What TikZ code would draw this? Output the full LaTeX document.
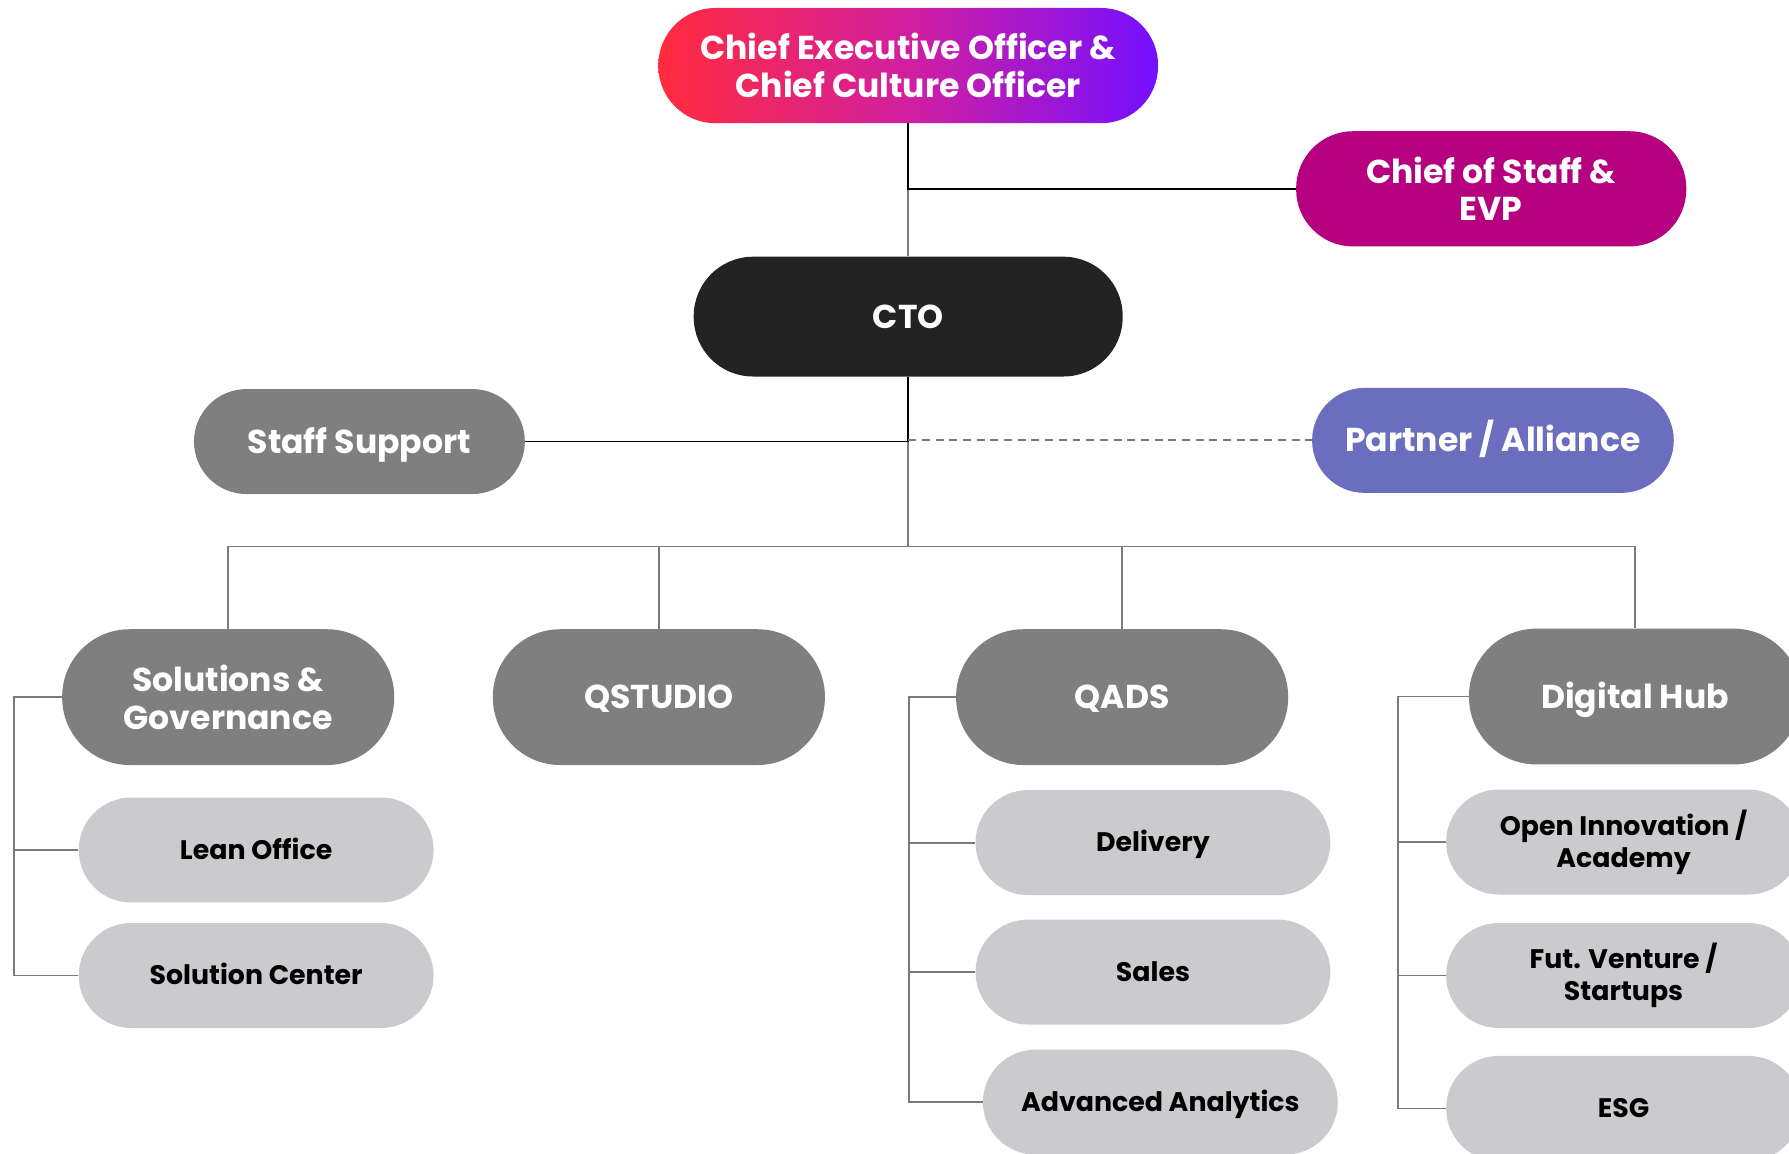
\documentclass[tikz,border=0pt]{standalone}
\usepackage{fontspec}
\setmainfont{Poppins}
\definecolor{gradL}{HTML}{FF2B3D}
\definecolor{gradM}{HTML}{D21FA0}
\definecolor{gradR}{HTML}{7410FF}
\definecolor{cosC}{HTML}{B5007F}
\definecolor{ctoC}{HTML}{232323}
\definecolor{midC}{HTML}{7F7F80}
\definecolor{parC}{HTML}{6B6EBE}
\definecolor{subC}{HTML}{CBCBCD}
\definecolor{lineC}{HTML}{7A7A7A}
\tikzset{
  pill/.style={rectangle, inner sep=0pt, align=center, font=\bfseries\fontsize{29}{33}\selectfont},
  oneline/.style={text height=20.3pt, text depth=0pt},
  onesmall/.style={text height=16.4pt, text depth=0pt},
  toplev/.style={pill, minimum height=101pt, rounded corners=50pt, text=white},
  lev2/.style={pill, minimum height=92pt, rounded corners=46pt, text=white, oneline},
  lev3/.style={pill, minimum width=291pt, minimum height=119pt, rounded corners=59pt, fill=midC, text=white},
  subbox/.style={pill, minimum width=311pt, minimum height=92pt, rounded corners=46pt, fill=subC, text=black, font=\bfseries\fontsize{23.5}{28}\selectfont},
  blk/.style={draw=black, line width=1.6pt},
  gry/.style={draw=lineC, line width=1.6pt},
  dsh/.style={draw=lineC, line width=1.6pt, dash pattern=on 7pt off 5pt}
}
\begin{document}
\begin{tikzpicture}[x=1pt, y=-1pt]
\path[use as bounding box, clip] (0,0) rectangle (1568,1011);
\fill[white] (0,0) rectangle (1568,1011);

% nodes
\node[toplev, minimum width=438pt, left color=gradL, right color=gradR, middle color=gradM] (ceo) at (796,57.5) {Chief Executive Officer \&\\Chief Culture Officer};
\node[toplev, minimum width=342pt, fill=cosC] (cos) at (1307,165.5) {Chief of Staff \&\\EVP};
\node[pill, oneline, minimum width=376pt, minimum height=105pt, rounded corners=52pt, fill=ctoC, text=white] (cto) at (796,277.5) {CTO};
\node[lev2, minimum width=290pt, fill=midC] (staff) at (315,387) {Staff Support};
\node[lev2, minimum width=317pt, fill=parC] (par) at (1308.5,386) {Partner / Alliance};

\node[lev3] (sg) at (200,611) {Solutions \&\\Governance};
\node[lev3, oneline] (qs) at (577.5,611) {QSTUDIO};
\node[lev3, oneline] (qa) at (983.5,611) {QADS};
\node[lev3, oneline] (dh) at (1433,610.5) {Digital Hub};

\node[subbox, onesmall] (lo) at (224.5,745) {Lean Office};
\node[subbox, onesmall] (sc) at (224.5,855) {Solution Center};
\node[subbox, onesmall] (de) at (1010.5,738.5) {Delivery};
\node[subbox, onesmall] (sa) at (1010.5,852) {Sales};
\node[subbox, onesmall] (aa) at (1017,966) {Advanced Analytics};
\node[subbox] (oi) at (1423,738) {Open Innovation /\\Academy};
\node[subbox] (fv) at (1423,855) {Fut. Venture /\\Startups};
\node[subbox, onesmall] (esg) at (1423,971.5) {ESG};

% coordinates
\coordinate (bus) at (796,479);
\coordinate (sgx) at (12,611);
\coordinate (qax) at (797,611);
\coordinate (dhx) at (1225,610.5);

% connectors
\draw[gry] (ceo.south) -- (cto.north);
\draw[blk] (ceo.south) |- (cos.west);
\draw[gry] (cto.south) -- (bus);
\draw[blk] (cto.south) |- (staff.east);
\draw[dsh] (cto.south |- par.west) -- (par.west);
\draw[gry] (sg.north) |- (bus) -| (dh.north);
\draw[gry] (qs.north) -- (qs.north |- bus);
\draw[gry] (qa.north) -- (qa.north |- bus);

\draw[gry] (sg.west) -| (sgx |- sc.west) -- (sc.west);
\draw[gry] (sgx |- lo.west) -- (lo.west);

\draw[gry] (qa.west) -| (qax |- aa.west) -- (aa.west);
\draw[gry] (qax |- de.west) -- (de.west);
\draw[gry] (qax |- sa.west) -- (sa.west);

\draw[gry] (dh.west) -| (dhx |- esg.west) -- (esg.west);
\draw[gry] (dhx |- oi.west) -- (oi.west);
\draw[gry] (dhx |- fv.west) -- (fv.west);
\end{tikzpicture}
\end{document}
